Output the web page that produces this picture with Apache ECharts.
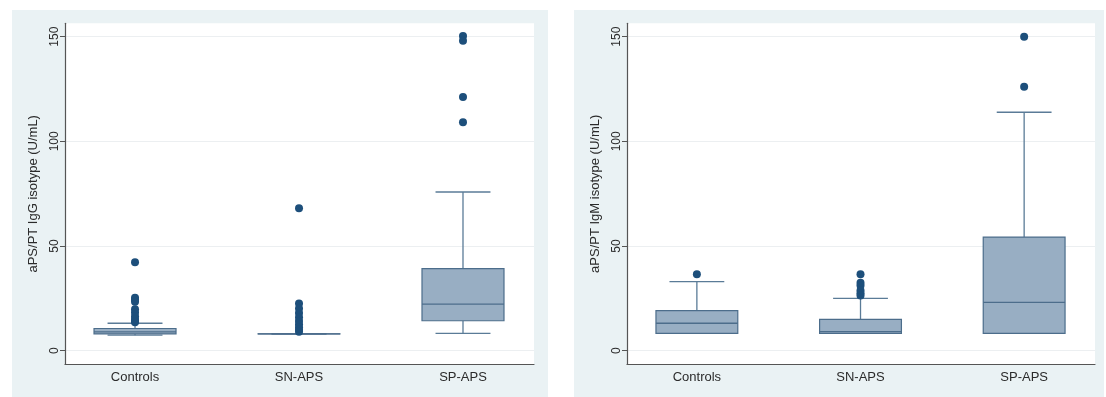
<!DOCTYPE html>
<html>
<head>
<meta charset="utf-8">
<script src="https://cdn.jsdelivr.net/npm/echarts@6/dist/echarts.min.js"></script>
<style>
html,body{margin:0;padding:0;background:#ffffff;}
#chart{width:1106px;height:397px;}
</style>
</head>
<body>
<div id="chart"></div>
<script>
// ---- data ----
const categories = ['Controls', 'SN-APS', 'SP-APS'];
const yTicks = [0, 50, 100, 150];
const titleIgG = 'aPS/PT IgG isotype (U/mL)';
const titleIgM = 'aPS/PT IgM isotype (U/mL)';
// [lower whisker, Q1, median, Q3, upper whisker]
const iggBoxes = [
  [7.4, 8.0, 9.0, 10.6, 13.1],
  [8.0, 8.0, 8.0, 8.0, 8.0],
  [8.3, 14.3, 22.2, 39.2, 75.8]
];
const iggOutliers = [
  [42.2, 25.3, 24.3, 23.4, 19.8, 18.2, 16.5, 15.2, 14.2, 13.6],
  [68.0, 22.6, 20.2, 18.0, 16.0, 14.2, 12.6, 11.2, 10.0, 9.0],
  [150.3, 148.1, 121.2, 109.1]
];
const igmBoxes = [
  [8.3, 8.3, 13.1, 19.1, 33.0],
  [8.3, 8.3, 9.1, 15.0, 25.0],
  [8.3, 8.3, 23.1, 54.3, 113.9]
];
const igmOutliers = [
  [36.5],
  [36.5, 32.5, 31.2, 28.8, 27.4, 26.4],
  [150.0, 126.1]
];

// ---- styles ----
const BOX_FILL = '#98aec3';
const BOX_EDGE = '#4c6d8b';
const WHISK = '#5a7b97';
const DOT = '#1d4f7b';
const PANEL_BG = '#eaf2f4';
const TEXT = '#2b2b2b';
const FONT = 'Liberation Sans';

function boxData(boxes) {
  return boxes.map((b, i) => [i + 1].concat(b));
}
function outlierData(outs) {
  const res = [];
  outs.forEach((arr, i) => arr.forEach(v => res.push([i + 1, v])));
  return res;
}

function renderBox(params, api) {
  const x = api.value(0);
  const lo = api.coord([x, api.value(1)]);
  const q1 = api.coord([x, api.value(2)]);
  const md = api.coord([x, api.value(3)]);
  const q3 = api.coord([x, api.value(4)]);
  const hi = api.coord([x, api.value(5)]);
  const bw = api.size([0.5, 0])[0];
  const cw = api.size([0.335, 0])[0];
  const cx = lo[0];
  const lineStyle = { stroke: WHISK, lineWidth: 1.3 };
  const children = [];
  children.push({ type: 'line', shape: { x1: cx, y1: q3[1], x2: cx, y2: hi[1] }, style: lineStyle });
  children.push({ type: 'line', shape: { x1: cx, y1: q1[1], x2: cx, y2: lo[1] }, style: lineStyle });
  children.push({ type: 'line', shape: { x1: cx - cw / 2, y1: hi[1], x2: cx + cw / 2, y2: hi[1] }, style: lineStyle });
  children.push({ type: 'line', shape: { x1: cx - cw / 2, y1: lo[1], x2: cx + cw / 2, y2: lo[1] }, style: lineStyle });
  children.push({ type: 'rect', shape: { x: cx - bw / 2, y: q3[1], width: bw, height: Math.max(q1[1] - q3[1], 0.01) },
    style: { fill: BOX_FILL, stroke: BOX_EDGE, lineWidth: 1.2 } });
  children.push({ type: 'line', shape: { x1: cx - bw / 2, y1: md[1], x2: cx + bw / 2, y2: md[1] },
    style: { stroke: BOX_EDGE, lineWidth: 1.3 } });
  return { type: 'group', children: children };
}

function xAxisDef(gi) {
  return {
    type: 'value', gridIndex: gi, min: 0.573, max: 3.433,
    axisLine: { show: true, onZero: false, lineStyle: { color: '#555555', width: 1.2 } },
    axisTick: { show: false },
    splitLine: { show: false },
    axisLabel: {
      customValues: [1, 2, 3], margin: 7,
      formatter: v => categories[Math.round(v) - 1] || '',
      color: TEXT, fontSize: 13, fontFamily: FONT
    }
  };
}
function yAxisDef(gi, title) {
  return {
    type: 'value', gridIndex: gi, min: -6.5, max: 156.4,
    name: title, nameLocation: 'middle', nameGap: 25, nameRotate: 90,
    nameTextStyle: { color: TEXT, fontSize: 13, fontFamily: FONT },
    axisLine: { show: true, onZero: false, lineStyle: { color: '#555555', width: 1.2 } },
    axisTick: { show: true, customValues: yTicks, length: 5, lineStyle: { color: '#555555' } },
    splitLine: { show: true, lineStyle: { color: '#eceff1', width: 1 } },
    axisLabel: {
      customValues: yTicks, rotate: 90, margin: 4,
      color: TEXT, fontSize: 12, fontFamily: FONT
    }
  };
}

const chart = echarts.init(document.getElementById('chart'), null, { renderer: 'canvas' });
chart.setOption({
  backgroundColor: '#ffffff',
  animation: false,
  graphic: [
    { type: 'rect', z: -10, shape: { x: 12, y: 10, width: 536, height: 387 }, style: { fill: PANEL_BG } },
    { type: 'rect', z: -10, shape: { x: 574, y: 10, width: 530, height: 387 }, style: { fill: PANEL_BG } }
  ],
  grid: [
    { left: 65, top: 23.3, width: 469, height: 341, show: true, backgroundColor: '#ffffff', borderWidth: 0 },
    { left: 627, top: 23.3, width: 468, height: 341, show: true, backgroundColor: '#ffffff', borderWidth: 0 }
  ],
  xAxis: [xAxisDef(0), xAxisDef(1)],
  yAxis: [yAxisDef(0, titleIgG), yAxisDef(1, titleIgM)],
  series: [
    { type: 'custom', xAxisIndex: 0, yAxisIndex: 0, renderItem: renderBox, data: boxData(iggBoxes),
      encode: { x: 0, y: [1, 2, 3, 4, 5] } },
    { type: 'scatter', xAxisIndex: 0, yAxisIndex: 0, data: outlierData(iggOutliers),
      symbolSize: 8, itemStyle: { color: DOT, opacity: 1 } },
    { type: 'custom', xAxisIndex: 1, yAxisIndex: 1, renderItem: renderBox, data: boxData(igmBoxes),
      encode: { x: 0, y: [1, 2, 3, 4, 5] } },
    { type: 'scatter', xAxisIndex: 1, yAxisIndex: 1, data: outlierData(igmOutliers),
      symbolSize: 8, itemStyle: { color: DOT, opacity: 1 } }
  ]
});
</script>
</body>
</html>
